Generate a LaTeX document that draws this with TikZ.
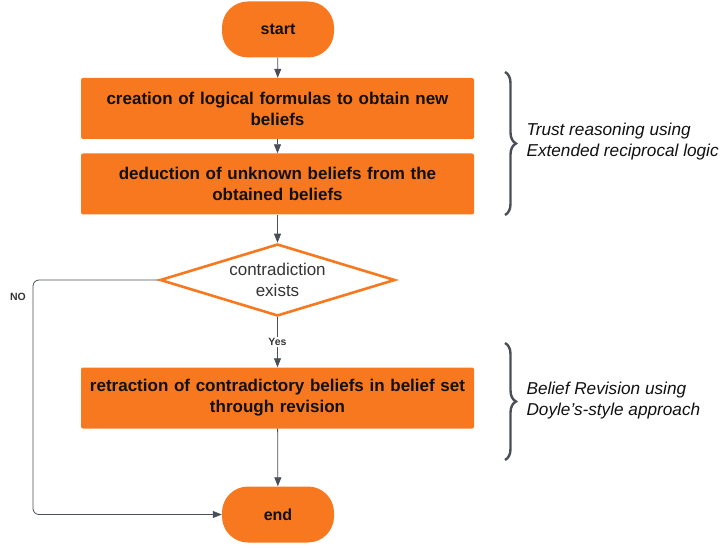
\documentclass[tikz,border=0pt]{standalone}
\usepackage{fontspec}
\setmainfont{Liberation Sans}
\usetikzlibrary{shapes.geometric,arrows.meta,decorations.pathreplacing}
\definecolor{lorange}{HTML}{F7781F}
\definecolor{lgray}{HTML}{4A4F57}
\definecolor{ltext}{HTML}{111111}
\begin{document}
\begin{tikzpicture}[x=1pt,y=-1pt,
  term/.style={rectangle,rounded corners=26pt,fill=lorange,minimum width=112pt,minimum height=56pt,font=\bfseries\fontsize{16}{19}\selectfont,text=ltext},
  procbox/.style={rectangle,rounded corners=2pt,fill=lorange,minimum width=393pt,minimum height=61pt,text width=385pt,align=center,font=\bfseries\fontsize{17}{21}\selectfont,text=ltext},
  decision/.style={diamond,draw=lorange,line width=2.6pt,fill=white,minimum width=235pt,minimum height=72pt,aspect=3.26,inner sep=0pt,align=center,font=\fontsize{17}{21}\selectfont,text=ltext!85},
  conn/.style={draw=lgray,line width=0.8pt,-{Triangle[length=9pt,width=7pt]}},
  lbl/.style={font=\bfseries\fontsize{10.5}{12}\selectfont,text=ltext!85},
  bracestyle/.style={draw=lgray,line width=2.4pt,decorate,decoration={brace,amplitude=11pt}},
  note/.style={anchor=west,align=left,font=\itshape\fontsize{17.2}{21}\selectfont,text=ltext}]
\useasboundingbox (0,0) rectangle (720,548);
\node[term] (start) at (278,29.5) {start};
\node[procbox] (b1) at (277.5,108.5) {creation of logical formulas to obtain new\\beliefs};
\node[procbox] (b2) at (277.5,184) {deduction of unknown beliefs from the\\obtained beliefs};
\node[decision] (d) at (277.5,280) {contradiction\\exists};
\node[procbox] (b3) at (277.5,398) {retraction of contradictory beliefs in belief set\\through revision};
\node[term] (end) at (278,514.5) {end};
\draw[conn] (start) -- (b1);
\draw[conn] (b1) -- (b2);
\draw[conn] (b2) -- (d);
\draw[conn] (d) -- node[lbl,fill=white,inner sep=1.5pt,pos=0.5] (yes) {Yes} (b3);
\draw[conn] (b3) -- (end);
\coordinate (c1) at (33,280);
\coordinate (c2) at (33,514.5);
\draw[conn,rounded corners=6pt] (d.west) -- (c1) -- (c2) -- (end.west);
\node[lbl] (no) at (18,297) {NO};
\coordinate (br1t) at (505,72);
\coordinate (br1b) at (505,215);
\draw[bracestyle] (br1t) -- (br1b);
\coordinate (br2t) at (505,343);
\coordinate (br2b) at (505,460);
\draw[bracestyle] (br2t) -- (br2b);
\node[note] (n1) at (523,141.5) {Trust reasoning using\\Extended reciprocal logic};
\node[note] (n2) at (523,401) {Belief Revision using\\Doyle’s-style approach};
\end{tikzpicture}
\end{document}
